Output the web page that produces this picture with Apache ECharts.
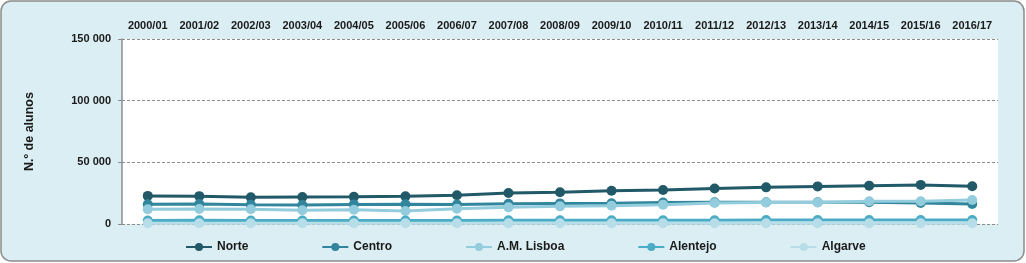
<!DOCTYPE html>
<html>
<head>
<meta charset="utf-8">
<script src="https://cdn.jsdelivr.net/npm/echarts@6/dist/echarts.min.js"></script>
<style>
html,body{margin:0;padding:0;background:#ffffff;}
#chart{width:1026px;height:263px;}
</style>
</head>
<body>
<div id="chart"></div>
<script>
const categories = ['2000/01','2001/02','2002/03','2003/04','2004/05','2005/06','2006/07','2007/08','2008/09','2009/10','2010/11','2011/12','2012/13','2013/14','2014/15','2015/16','2016/17'];
const seriesNames = ['Norte','Centro','A.M. Lisboa','Alentejo','Algarve'];
const norte    = [22800,22600,21600,21900,22000,22400,23300,25200,25800,26900,27600,28800,29700,30500,31100,31700,30600];
const centro   = [16000,16200,15600,15400,15900,16000,15800,16400,16700,16800,17400,17600,17700,17700,17600,17000,16200];
const lisboa   = [11900,12200,11900,11200,11500,10600,12400,13500,14300,14800,15700,17000,17400,17500,18400,18400,19500];
const alentejo = [2800,3000,2900,2900,2900,2800,2900,3000,3000,3000,3100,3100,3200,3200,3200,3200,3300];
const algarve  = [600,600,600,600,600,600,600,600,600,600,600,600,600,600,600,600,600];
const yTicks = [0,50000,100000,150000];
const colors = ['#215968','#31859C','#93CDDD','#4BACC6','#B7DEE8'];
const values = [norte, centro, lisboa, alentejo, algarve];

const fmt = v => String(v).replace(/\B(?=(\d{3})+(?!\d))/g, ' ');

const chart = echarts.init(document.getElementById('chart'), null, {renderer:'canvas'});
chart.setOption({
  animation:false,
  textStyle:{fontFamily:'"Liberation Sans", Arial, sans-serif'},
  graphic:[{
    type:'rect', z:-10, silent:true,
    shape:{x:1,y:1,width:1023,height:260,r:10},
    style:{fill:'#DAEEF3', stroke:'#8c8c8c', lineWidth:1.5}
  }],
  grid:{left:122,right:28,top:39,bottom:39,show:true,backgroundColor:'#ffffff',borderWidth:0},
  xAxis:{
    type:'category', position:'top', data:categories, boundaryGap:true,
    axisLine:{show:false}, axisTick:{show:false},
    axisLabel:{margin:8,fontSize:11,fontWeight:'bold',color:'#1a1a1a',interval:0}
  },
  yAxis:{
    type:'value', min:yTicks[0], max:yTicks[yTicks.length-1], interval:50000,
    name:'N.º de alunos', nameLocation:'middle', nameGap:86, nameRotate:90,
    nameTextStyle:{fontSize:12.5,fontWeight:'bold',color:'#1a1a1a'},
    axisLine:{show:true,lineStyle:{color:'#8c8c8c',width:1.5}},
    axisTick:{show:true,length:4,lineStyle:{color:'#8c8c8c'}},
    axisLabel:{margin:11,fontSize:11,fontWeight:'bold',color:'#1a1a1a',formatter:fmt},
    splitLine:{show:true,lineStyle:{type:[3,2],color:'#8c8c8c',width:1}}
  },
  legend:{
    bottom:5, left:180, itemGap:73, itemWidth:26, itemHeight:10,
    textStyle:{fontSize:12,fontWeight:'bold',color:'#1a1a1a'},
    data:seriesNames
  },
  series: seriesNames.map((n,i)=>({
    name:n, type:'line', data:values[i],
    symbol:'circle', symbolSize:10,
    lineStyle:{width:3,color:colors[i]},
    itemStyle:{color:colors[i]},
    z:2+i
  }))
});
</script>
</body>
</html>
